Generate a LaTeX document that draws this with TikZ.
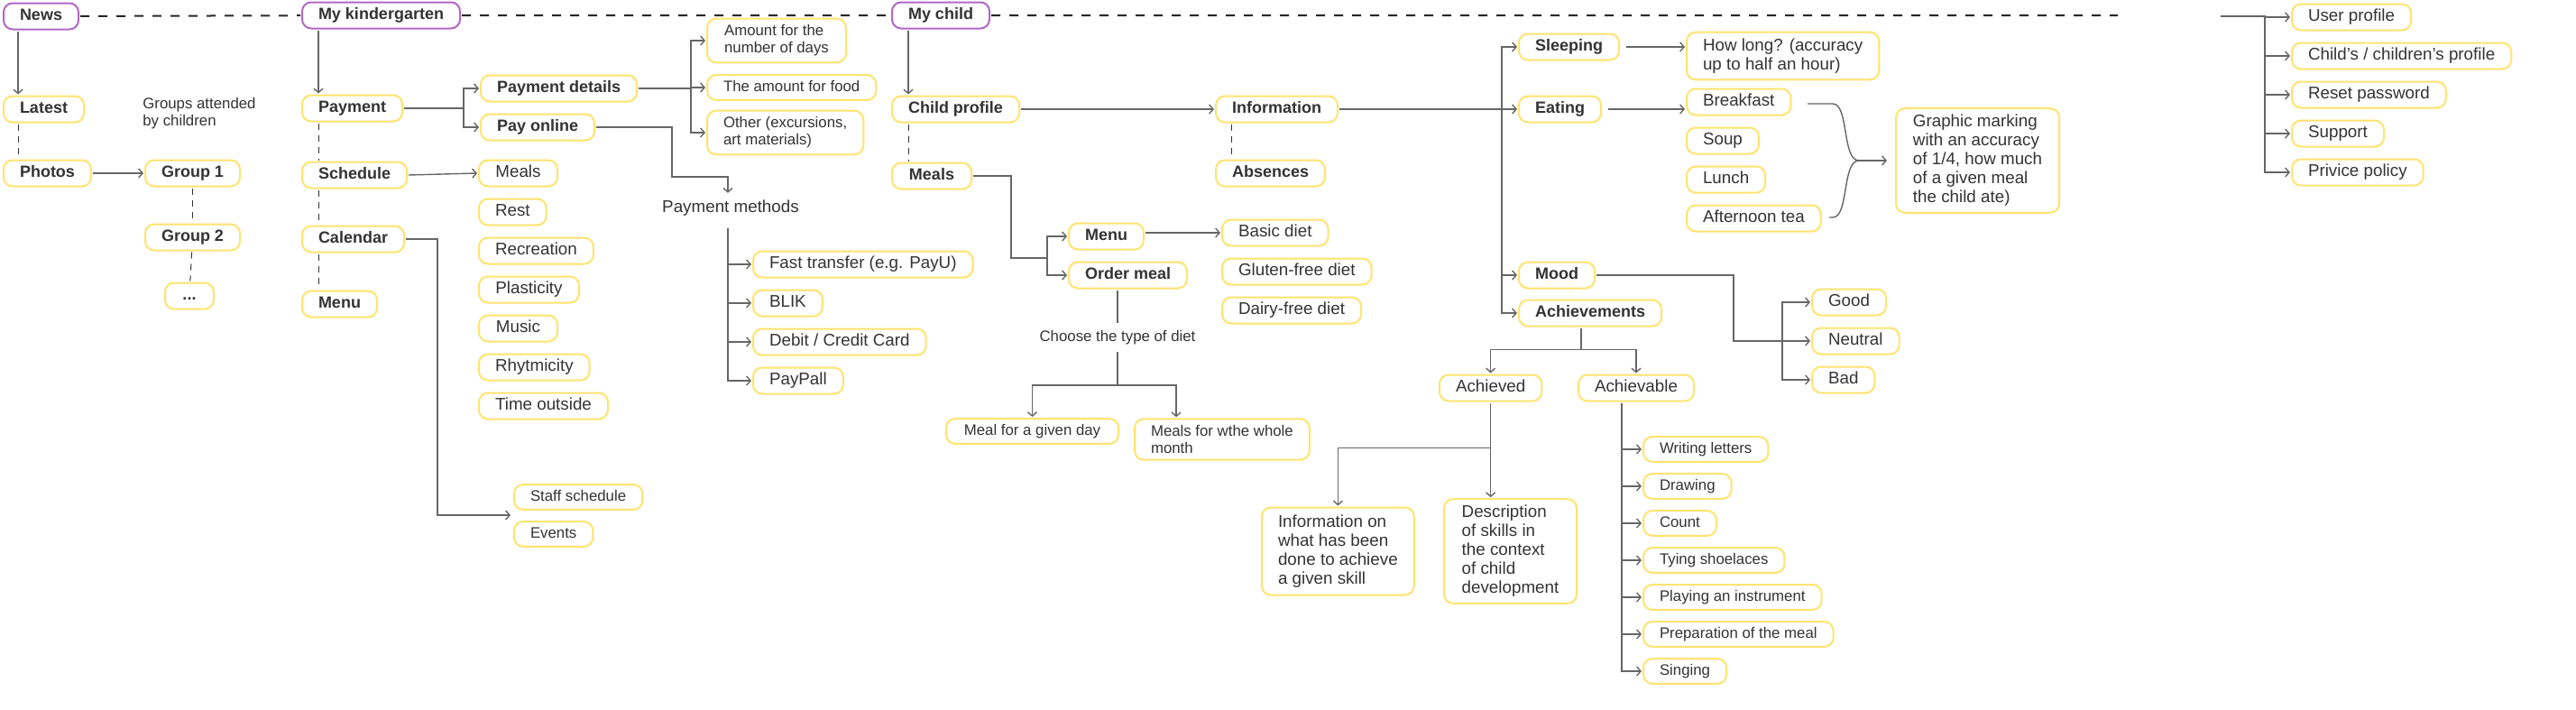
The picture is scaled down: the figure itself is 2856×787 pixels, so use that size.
\documentclass[tikz,border=0pt]{standalone}
\usepackage{fontspec}
\setmainfont{Liberation Sans}
\usepackage{tikz}
\usetikzlibrary{arrows.meta,positioning,calc}
\definecolor{cPur}{HTML}{B266C8}
\definecolor{cYel}{HTML}{FFE36E}
\definecolor{cTxt}{HTML}{333333}
\definecolor{cLn} {HTML}{666666}
\newcommand{\ftBold}{\fontsize{9}{10.5}\selectfont\bfseries}
\newcommand{\ftReg}{\fontsize{9.4}{10.5}\selectfont}
\newcommand{\ftSml}{\fontsize{8.4}{9.5}\selectfont}
\tikzset{
  bx/.style   ={draw=cYel,line width=1pt,rounded corners=5pt,fill=white,text=cTxt,
                inner xsep=9pt,inner ysep=3.5pt,align=left,outer sep=1pt,anchor=west},
  one/.style  ={bx,inner ysep=2.5pt,text height=6.9pt,text depth=2pt,minimum height=14.5pt},
  hd/.style   ={one,draw=cPur,font=\ftBold},
  sec/.style  ={one,font=\ftBold},
  itm/.style  ={one,font=\ftReg},
  sml/.style  ={one,font=\ftSml,minimum height=13.5pt},
  mlt/.style  ={bx,font=\ftReg},
  mlts/.style ={bx,font=\ftSml},
  txt/.style  ={text=cTxt,align=left,inner sep=4pt},
  conn/.style ={-{Straight Barb[length=2.2pt,width=5pt]},draw=cLn,line width=0.7pt},
  ln/.style   ={draw=cLn,line width=0.7pt},
  rail/.style ={draw=black!85,line width=1pt,dash pattern=on 5pt off 5pt},
  sib/.style  ={draw=black!80,line width=0.5pt,dash pattern=on 3.5pt off 3pt},
}

\begin{document}
\begin{tikzpicture}[x=0.5pt,y=0.5pt]
\useasboundingbox (0,0) rectangle (2856,-787);

% ===== top rail ===========================================================
\node[hd,minimum width=41pt]   (news)  at (2,-18)   {News};
\node[hd,minimum width=85.5pt] (kg)    at (333,-17) {My kindergarten};
\node[hd,minimum width=53pt]   (child) at (987,-17) {My child};
\coordinate (railend) at (2348,-17);
\draw[rail] (news) -- (kg) (kg) -- (child) (child) -- (railend);

% ===== news ===============================================================
\node[sec,minimum width=44pt] (latest) at (2,-121)   {Latest};
\node[sec,minimum width=48pt] (photos) at (2,-192)   {Photos};
\node[sec,minimum width=51pt] (grp1)   at (159,-192) {Group 1};
\node[sec,minimum width=51pt] (grp2)   at (159,-263) {Group 2};
\node[sec,minimum width=27pt] (grpn)   at (181,-328) {...};
\node[txt,font=\ftSml,anchor=north west,inner sep=0pt] (grpnote) at (158,-108)
  {Groups attended\\by children};
\draw[conn] ([xshift=9pt]news.south west) -- ([xshift=9pt]news.south west |- latest.north);
\draw[sib]  ([xshift=9pt]latest.south west) -- ([xshift=9pt]latest.south west |- photos.north);
\draw[conn] (photos) -- (grp1);
\draw[sib] (grp1) -- (grp2);
\draw[sib] (grp2) -- (grpn);

% ===== my kindergarten ====================================================
\node[sec,minimum width=54.5pt] (pay)   at (333,-120) {Payment};
\node[sec,minimum width=57pt]   (sched) at (333,-194) {Schedule};
\node[sec,minimum width=55.5pt] (cal)   at (333,-265) {Calendar};
\node[sec,minimum width=41.5pt] (kmenu) at (333,-337) {Menu};
\draw[conn] ([xshift=10pt]kg.south west) -- ([xshift=10pt]kg.south west |- pay.north);
\foreach \a/\b in {pay/sched,sched/cal,cal/kmenu}
  {\draw[sib] ([xshift=10pt]\a.south west) -- ([xshift=10pt]\a.south west |- \b.north);}

\node[sec,minimum width=84pt] (pdet)  at (531,-98)  {Payment details};
\node[sec,minimum width=61pt] (payon) at (531,-141) {Pay online};
\foreach \n in {pdet,payon}{\draw[conn] (pay.east) -- ++(66,0) |- (\n.west);}

\node[itm,minimum width=43.5pt] (smeal) at (529,-192) {Meals};
\node[itm,minimum width=37pt]   (srest) at (529,-235) {Rest};
\node[itm,minimum width=61.5pt] (srec)  at (529,-278) {Recreation};
\node[itm,minimum width=55.5pt] (splas) at (529,-321) {Plasticity};
\node[itm,minimum width=43.5pt] (smus)  at (529,-364) {Music};
\node[itm,minimum width=61pt]   (srhy)  at (529,-407) {Rhytmicity};
\node[itm,minimum width=71.5pt] (sout)  at (529,-450) {Time outside};
\draw[conn] (sched.east) -- (smeal.west);

% calendar feed ends between its two entries
\node[sml,minimum width=70pt] (staff)  at (568,-551) {Staff schedule};
\node[sml,minimum width=42pt] (events) at (568,-592) {Events};
\coordinate (calin) at (566,-571);
\draw[conn] (cal.east) -- ++(35,0) |- (calin);

% ===== payment details / methods ==========================================
\node[mlts,minimum width=77pt] (amt)  at (782,-45)  {Amount for the\\number of days};
\node[sml,minimum width=92pt]  (food) at (782,-97)  {The amount for food};
\node[mlts,minimum width=84pt] (oth)  at (782,-147) {Other (excursions,\\art materials)};
\foreach \n in {amt,food,oth}{\draw[conn] (pdet.east) -- ++(58,0) |- (\n.west);}

\node[txt,font=\ftReg] (pm) at (810,-231) {Payment methods};
\draw[conn] (payon.east) -- ++(84,0) |- ([xshift=-1.5pt,yshift=9pt]pm.north)
  -- ([xshift=-1.5pt]pm.north);
\node[itm,minimum width=115.5pt] (ft)   at (833,-293) {Fast transfer (e.g. PayU)};
\node[itm,minimum width=38pt]    (blik) at (833,-336) {BLIK};
\node[itm,minimum width=92.5pt]  (card) at (833,-379) {Debit / Credit Card};
\node[itm,minimum width=49pt]    (ppal) at (833,-422) {PayPall};
\foreach \n in {ft,blik,card,ppal}{\draw[conn] ([xshift=-1.5pt]pm.south) ++(0,-5) |- (\n.west);}

% ===== my child ===========================================================
\node[sec,minimum width=68pt]   (cprof) at (987,-121)  {Child profile};
\node[sec,minimum width=44pt]   (cmeal) at (987,-195)  {Meals};
\node[sec,minimum width=66.5pt] (info)  at (1346,-121) {Information};
\node[sec,minimum width=59pt]   (absn)  at (1346,-192) {Absences};
\draw[conn] ([xshift=10pt]child.south west) -- ([xshift=10pt]child.south west |- cprof.north);
\draw[sib]  ([xshift=10pt]cprof.south west) -- ([xshift=10pt]cprof.south west |- cmeal.north);
\draw[conn] (cprof) -- (info);
\draw[sib]  ([xshift=9.5pt]info.south west) -- ([xshift=9.5pt]info.south west |- absn.north);

\node[sec,minimum width=41.5pt] (cmenu) at (1183,-262) {Menu};
\node[sec,minimum width=64pt]   (omeal) at (1183,-305) {Order meal};
\coordinate (mjoin) at (1161,-286);
\draw[ln] (cmeal.east) -- ++(42,0) |- (mjoin);
\foreach \n in {cmenu,omeal}{\draw[conn] (mjoin) |- (\n.west);}

\node[itm,minimum width=58.5pt] (basic) at (1353,-258) {Basic diet};
\node[itm,minimum width=81pt]   (glut)  at (1353,-301) {Gluten-free diet};
\node[itm,minimum width=76pt]   (dairy) at (1353,-344) {Dairy-free diet};
\draw[conn] (basic.west -| cmenu.east) -- (basic.west);

\node[txt,font=\ftSml] (ctd) at (1239,-374) {Choose the type of diet};
\draw[ln] (omeal.south -| ctd.north) -- (ctd.north);
\coordinate (djoin) at (1239,-427);
\draw[ln] (ctd.south) -- (djoin);
\node[sml,minimum width=95.5pt]  (mday) at (1047,-478) {Meal for a given day};
\node[mlts,minimum width=95.5pt] (mmon) at (1256,-487) {Meals for wthe whole\\month};
\draw[conn] (djoin) -| (mday.north);
\draw[conn] (djoin) -| ([xshift=24pt]mmon.north west);

% ===== information =========================================================
\node[sec,minimum width=54pt]   (sleep) at (1682,-52)  {Sleeping};
\node[sec,minimum width=44pt]   (eat)   at (1682,-121) {Eating};
\node[sec,minimum width=42pt]   (mood)  at (1682,-305) {Mood};
\node[sec,minimum width=76.5pt] (achs)  at (1682,-347) {Achievements};
\foreach \n in {sleep,eat,mood,achs}{\draw[conn] (info.east) -- ++(180,0) |- (\n.west);}

\node[mlt,minimum width=106.5pt] (howl) at (1868,-62) {How long? (accuracy\\up to half an hour)};
\node[itm,minimum width=57.5pt] (bkf)   at (1868,-113) {Breakfast};
\node[itm,minimum width=39.5pt] (soup)  at (1868,-156) {Soup};
\node[itm,minimum width=43.5pt] (lunch) at (1868,-199) {Lunch};
\node[itm,minimum width=73.5pt] (tea)   at (1868,-242) {Afternoon tea};
\draw[conn,shorten <=3pt] (sleep.east) -- (sleep.east -| howl.west);
\draw[conn,shorten <=3pt] (eat.east) -- (eat.east -| bkf.west);

% brace over the four meals
\node[mlt,minimum width=90.5pt] (graph) at (2100,-178)
  {Graphic marking\\with an accuracy\\of 1/4, how much\\of a given meal\\the child ate)};
\coordinate (brtop) at (2004,-115);
\coordinate (brbot) at (2028,-241);
\coordinate (brtip) at (2061,-178);
\draw[ln] (brtop) -- (2032,-115) .. controls (2050,-115) and (2042,-178) .. (brtip)
  .. controls (2042,-178) and (2050,-241) .. (2032,-241) -- (brbot);
\draw[conn] (brtip) -- ([xshift=-4pt]graph.west);

\node[itm,minimum width=40pt]   (good) at (2007,-335) {Good};
\node[itm,minimum width=48pt]   (neu)  at (2007,-378) {Neutral};
\node[itm,minimum width=34.5pt] (bad)  at (2007,-421) {Bad};
\draw[conn] (mood.east) -- ++(152,0) |- (neu.west);
\foreach \n in {good,bad}{\draw[conn] ([xshift=-15.5pt]neu.west) |- (\n.west);}

% ===== achievements =======================================================
\node[itm,minimum width=56.5pt] (achd) at (1594,-430) {Achieved};
\node[itm,minimum width=63pt]   (achv) at (1748,-430) {Achievable};
\draw[ln] ([xshift=-5pt]achs.south) -- ++(0,-24) coordinate (ajoin);
\foreach \n in {achd,achv}{\draw[conn] (ajoin) -| (\n.north);}

\node[mlt,minimum width=84pt,minimum height=48.5pt] (aninfo) at (1397,-611)
  {Information on\\what has been\\done to achieve\\a given skill};
\node[mlt,minimum width=73.5pt] (andesc) at (1599,-611)
  {Description\\of skills in\\the context\\of child\\development};
\draw[conn] (achd.south) -- (achd.south |- andesc.north);
\draw[conn] (achd.south) ++(0,-50) -| (aninfo.north);

\node[sml,minimum width=68.5pt] (sk1) at (1820,-498) {Writing letters};
\node[sml,minimum width=48pt]   (sk2) at (1820,-539) {Drawing};
\node[sml,minimum width=40pt]   (sk3) at (1820,-580) {Count};
\node[sml,minimum width=76.5pt] (sk4) at (1820,-621) {Tying shoelaces};
\node[sml,minimum width=96pt]   (sk5) at (1820,-662) {Playing an instrument};
\node[sml,minimum width=102pt]  (sk6) at (1820,-703) {Preparation of the meal};
\node[sml,minimum width=45pt]   (sk7) at (1820,-744) {Singing};
\foreach \i in {1,...,7}{\draw[conn] ([xshift=25pt]achv.south west) |- (sk\i.west);}

% ===== account ============================================================
\coordinate (acct) at (2462,-18);
\node[itm,minimum width=65pt]    (uprof)  at (2539,-19)  {User profile};
\node[itm,minimum width=118.5pt] (cprofs) at (2539,-62)  {Child’s / children’s profile};
\node[itm,minimum width=83.5pt]  (rpass)  at (2539,-105) {Reset password};
\node[itm,minimum width=51pt]    (supp)   at (2539,-148) {Support};
\node[itm,minimum width=72pt]    (ppol)   at (2539,-191) {Privice policy};
\foreach \n in {uprof,cprofs,rpass,supp,ppol}{\draw[conn] (acct) -- ++(49,0) |- (\n.west);}
\end{tikzpicture}
\end{document}
